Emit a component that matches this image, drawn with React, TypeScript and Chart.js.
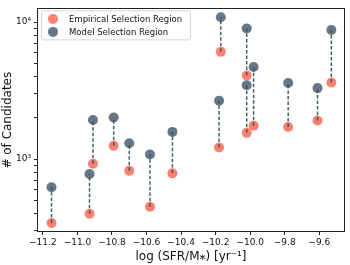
import { useEffect, useRef } from 'react';
import { Chart, registerables } from 'chart.js';

Chart.register(...registerables);

const sfrBins = [-11.15, -10.93, -10.91, -10.79, -10.7, -10.58, -10.45, -10.18, -10.17, -10.02, -10.02, -9.98, -9.78, -9.61, -9.53];
const empiricalCounts = [342, 399, 926, 1251, 822, 449, 787, 1217, 6060, 1554, 4073, 1751, 1714, 1912, 3616];
const modelCounts = [623, 779, 1931, 2009, 1305, 1080, 1580, 2665, 10840, 3459, 8965, 4695, 3591, 3295, 8735];
const xTicks = [-11.2, -11.0, -10.8, -10.6, -10.4, -10.2, -10.0, -9.8, -9.6];
const yTicks = [300, 400, 500, 600, 700, 800, 900, 1000, 2000, 3000, 4000, 5000, 6000, 7000, 8000, 9000, 10000];
const yMajorLabels: Record<number, string> = { 1000: '10³', 10000: '10⁴' };
const legendLabels = ['Empirical Selection Region', 'Model Selection Region'];
const xTitle = 'log (SFR/M⁎) [yr⁻¹]';
const yTitle = '# of Candidates';

const RED = '#fa8072';
const GRAY = '#66778a';
const LINE = 'rgba(47,79,79,0.9)';
const FONT = "'DejaVu Sans', sans-serif";

export default function App() {
  const ref = useRef<HTMLCanvasElement | null>(null);

  useEffect(() => {
    document.body.style.margin = '0';
    const canvas = ref.current;
    if (!canvas) return;

    const linkData: { x: number; y: number | null }[] = [];
    sfrBins.forEach((x, i) => {
      linkData.push({ x, y: empiricalCounts[i] });
      linkData.push({ x, y: modelCounts[i] });
      linkData.push({ x, y: null });
    });

    const framePlugin = {
      id: 'frameLegend',
      afterDraw(chart: any) {
        const { ctx, chartArea } = chart;
        ctx.save();
        ctx.strokeStyle = '#222';
        ctx.lineWidth = 1;
        ctx.strokeRect(
          Math.round(chartArea.left) + 0.5,
          Math.round(chartArea.top) + 0.5,
          Math.round(chartArea.right - chartArea.left) - 1,
          Math.round(chartArea.bottom - chartArea.top) - 1
        );
        // legend
        const x0 = chartArea.left + 4;
        const y0 = chartArea.top + 2;
        const w = 149;
        const h = 29;
        ctx.beginPath();
        if ((ctx as any).roundRect) (ctx as any).roundRect(x0 + 0.5, y0 + 0.5, w, h, 2);
        else ctx.rect(x0 + 0.5, y0 + 0.5, w, h);
        ctx.fillStyle = 'rgba(255,255,255,0.8)';
        ctx.fill();
        ctx.strokeStyle = '#d4d4d4';
        ctx.stroke();
        const colors = [RED, GRAY];
        legendLabels.forEach((label, i) => {
          const cy = y0 + 8.5 + i * 13;
          ctx.beginPath();
          ctx.arc(x0 + 12, cy, 5, 0, Math.PI * 2);
          ctx.fillStyle = colors[i];
          ctx.fill();
          ctx.fillStyle = '#111';
          ctx.font = `8.5px ${FONT}`;
          ctx.textBaseline = 'middle';
          ctx.textAlign = 'left';
          ctx.fillText(label, x0 + 28, cy + 0.5);
        });
        ctx.restore();
      },
    };

    const chart = new Chart(canvas, {
      type: 'scatter',
      data: {
        datasets: [
          {
            type: 'line',
            label: 'links',
            data: linkData as any,
            showLine: true,
            spanGaps: false,
            borderColor: LINE,
            borderWidth: 1.5,
            borderDash: [3.5, 2],
            pointRadius: 0,
            fill: false,
          } as any,
          {
            label: legendLabels[1],
            data: sfrBins.map((x, i) => ({ x, y: modelCounts[i] })),
            backgroundColor: GRAY,
            borderWidth: 0,
            pointRadius: 5,
          },
          {
            label: legendLabels[0],
            data: sfrBins.map((x, i) => ({ x, y: empiricalCounts[i] })),
            backgroundColor: RED,
            borderWidth: 0,
            pointRadius: 5,
          },
        ],
      },
      options: {
        responsive: false,
        animation: false,
        devicePixelRatio: 1,
        layout: { padding: { top: 2, right: 1, left: 0, bottom: 0 } },
        plugins: {
          legend: { display: false },
          tooltip: { enabled: false },
        },
        scales: {
          x: {
            type: 'linear',
            min: -11.234,
            max: -9.451,
            afterBuildTicks: (scale: any) => {
              scale.ticks = xTicks.map((v) => ({ value: v }));
            },
            afterFit: (scale: any) => {
              scale.height = 33;
            },
            ticks: {
              autoSkip: false,
              maxRotation: 0,
              padding: 2,
              color: '#111',
              font: { family: FONT, size: 9 },
              callback: (v: any) => (Number(v) < 0 ? '−' : '') + Math.abs(Number(v)).toFixed(1),
            },
            grid: { drawOnChartArea: false, drawTicks: true, tickLength: 3, color: '#222' },
            border: { display: false },
            title: {
              display: true,
              text: xTitle,
              color: '#111',
              font: { family: FONT, size: 12 },
              padding: { top: 0, bottom: 1 },
            },
          },
          y: {
            type: 'logarithmic',
            min: 294,
            max: 12570,
            afterBuildTicks: (scale: any) => {
              scale.ticks = yTicks.map((v) => ({ value: v, major: v in yMajorLabels }));
            },
            afterFit: (scale: any) => {
              scale.width = 37;
            },
            ticks: {
              autoSkip: false,
              padding: 3,
              color: '#111',
              font: { family: FONT, size: 9 },
              callback: (v: any) => yMajorLabels[Number(v)] ?? '',
            },
            grid: { drawOnChartArea: false, drawTicks: true, tickLength: 3, color: '#222' },
            border: { display: false },
            title: {
              display: true,
              text: yTitle,
              color: '#111',
              font: { family: FONT, size: 12 },
              padding: { top: 1, bottom: 0 },
            },
          },
        },
      },
      plugins: [framePlugin],
    } as any);

    return () => chart.destroy();
  }, []);

  return (
    <div style={{ width: 350, height: 265 }}>
      <canvas ref={ref} width={350} height={265} style={{ display: 'block' }} />
    </div>
  );
}
